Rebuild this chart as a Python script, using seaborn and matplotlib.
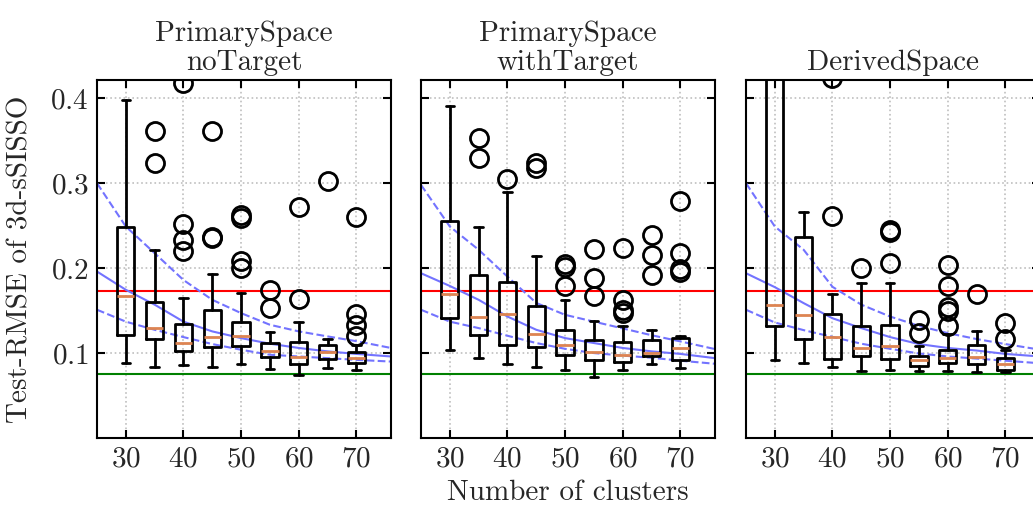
import numpy as np
import pandas as pd
import seaborn as sns
import matplotlib.pyplot as plt

# cluster counts on the x axis
positions = [30, 35, 40, 45, 50, 55, 60, 65, 70]
titles = ["PrimarySpace\nnoTarget", "PrimarySpace\nwithTarget", "DerivedSpace"]

# reference RMSE levels
red_level = 0.173
green_level = 0.0756

# box statistics, PrimarySpace noTarget
nt_whislo = [0.088, 0.084, 0.086, 0.084, 0.087, 0.0815, 0.0745, 0.083, 0.080]
nt_q1 = [0.121, 0.1165, 0.103, 0.107, 0.1086, 0.0953, 0.0874, 0.093, 0.088]
nt_med = [0.167, 0.130, 0.112, 0.119, 0.120, 0.102, 0.0953, 0.101, 0.094]
nt_q3 = [0.249, 0.160, 0.1345, 0.151, 0.1365, 0.112, 0.1125, 0.109, 0.101]
nt_whishi = [0.398, 0.221, 0.165, 0.193, 0.1706, 0.125, 0.137, 0.116, 0.109]
nt_fliers = [[], [0.362, 0.3235], [0.418, 0.252, 0.233, 0.2196], [0.362, 0.237, 0.235],
             [0.262, 0.259, 0.208, 0.200], [0.174, 0.1525], [0.2725, 0.164], [0.302],
             [0.26, 0.146, 0.133, 0.12]]

# box statistics, PrimarySpace withTarget
wt_whislo = [0.1039, 0.0937, 0.0874, 0.0839, 0.0796, 0.0718, 0.0796, 0.0874, 0.0824]
wt_q1 = [0.1415, 0.1212, 0.1098, 0.1071, 0.0976, 0.0913, 0.0889, 0.0968, 0.0921]
wt_med = [0.170, 0.1424, 0.1462, 0.1224, 0.1094, 0.1015, 0.0976, 0.0995, 0.1059]
wt_q3 = [0.2556, 0.1917, 0.1831, 0.1549, 0.1274, 0.1148, 0.1125, 0.1148, 0.1176]
wt_whishi = [0.3913, 0.2486, 0.2898, 0.2141, 0.1627, 0.1372, 0.1313, 0.1274, 0.1204]
wt_fliers = [[], [0.353, 0.3294], [0.3054], [0.3235, 0.3176], [0.2045, 0.2015, 0.1792],
             [0.2225, 0.1882, 0.1666], [0.2235, 0.162, 0.151, 0.147], [0.2392, 0.215, 0.192],
             [0.2792, 0.2184, 0.1988, 0.196]]

# box statistics, DerivedSpace
ds_whislo = [0.0921, 0.0882, 0.0831, 0.0784, 0.0804, 0.0784, 0.0788, 0.0776, 0.0776]
ds_q1 = [0.1313, 0.1168, 0.0929, 0.0968, 0.0933, 0.0843, 0.0878, 0.0871, 0.0804]
ds_med = [0.1568, 0.1447, 0.1188, 0.1054, 0.1078, 0.0921, 0.0941, 0.0953, 0.0871]
ds_q3 = [0.48, 0.2372, 0.1459, 0.1313, 0.1329, 0.0968, 0.1039, 0.109, 0.0937]
ds_whishi = [0.75, 0.2666, 0.1694, 0.1824, 0.1824, 0.1086, 0.1224, 0.1259, 0.1039]
ds_fliers = [[], [], [0.4235, 0.2619], [0.200], [0.2451, 0.2423, 0.2059], [0.1392, 0.1235],
             [0.2035, 0.1784, 0.1541, 0.149, 0.1313], [0.1694], [0.1353, 0.1165]]

# trend curve with its band
curve_x = [25, 30, 35, 40, 45, 50, 55, 60, 65, 70, 76]
nt_mid = [0.196, 0.1745, 0.157, 0.137, 0.1255, 0.1176, 0.111, 0.106, 0.102, 0.099, 0.096]
nt_upper = [0.300, 0.249, 0.2176, 0.186, 0.1627, 0.147, 0.1333, 0.1255, 0.1196, 0.114, 0.106]
nt_lower = [0.151, 0.137, 0.1274, 0.1188, 0.1106, 0.1039, 0.098, 0.096, 0.094, 0.092, 0.090]
wt_mid = [0.194, 0.179, 0.1627, 0.143, 0.1274, 0.1176, 0.1118, 0.106, 0.102, 0.099, 0.094]
wt_upper = [0.298, 0.249, 0.2216, 0.190, 0.159, 0.145, 0.137, 0.129, 0.121, 0.1137, 0.1047]
wt_lower = [0.151, 0.137, 0.1294, 0.1204, 0.1118, 0.105, 0.100, 0.097, 0.0945, 0.091, 0.0874]
ds_mid = [0.194, 0.1776, 0.1588, 0.141, 0.1294, 0.1188, 0.1106, 0.106, 0.103, 0.099, 0.096]
ds_upper = [0.300, 0.249, 0.2216, 0.178, 0.157, 0.143, 0.132, 0.1235, 0.1165, 0.1106, 0.104]
ds_lower = [0.151, 0.136, 0.127, 0.119, 0.111, 0.105, 0.0995, 0.096, 0.0935, 0.091, 0.088]

panels = [
    (nt_whislo, nt_q1, nt_med, nt_q3, nt_whishi, nt_fliers, nt_mid, nt_upper, nt_lower),
    (wt_whislo, wt_q1, wt_med, wt_q3, wt_whishi, wt_fliers, wt_mid, wt_upper, wt_lower),
    (ds_whislo, ds_q1, ds_med, ds_q3, ds_whishi, ds_fliers, ds_mid, ds_upper, ds_lower),
]

sns.set_theme(style="ticks")
plt.rcParams['font.family'] = ['cmr10', 'DejaVu Serif']
plt.rcParams['mathtext.fontset'] = 'cm'
plt.rcParams['axes.formatter.use_mathtext'] = True
plt.rcParams['text.color'] = '0.15'
plt.rcParams['axes.labelcolor'] = '0.15'

FS = 21
W, H = 1033, 509
fig = plt.figure(figsize=(W / 100, H / 100), dpi=100)
lefts = [97, 421, 746]
blue = '#7373ff'
med_color = '#dd8452'

for i, (left, data) in enumerate(zip(lefts, panels)):
    whislo, q1, med, q3, whishi, fliers, mid, upper, lower = data
    ax = fig.add_axes([left / W, (H - 438) / H, 294 / W, 358 / H])

    ax.axhline(red_level, color='red', lw=1.5, zorder=1)
    ax.axhline(green_level, color='green', lw=1.5, zorder=1)

    curves = pd.DataFrame({'x': curve_x, 'mid': mid, 'upper': upper, 'lower': lower})
    sns.lineplot(data=curves, x='x', y='mid', ax=ax, color=blue, lw=1.5, zorder=1)
    sns.lineplot(data=curves, x='x', y='upper', ax=ax, color=blue, lw=1.5, ls='--', zorder=1)
    sns.lineplot(data=curves, x='x', y='lower', ax=ax, color=blue, lw=1.5, ls='--', zorder=1)

    stats = [dict(whislo=a, q1=b, med=c, q3=d, whishi=e, fliers=f)
             for a, b, c, d, e, f in zip(whislo, q1, med, q3, whishi, fliers)]
    ax.bxp(stats, positions=positions, widths=3, manage_ticks=False,
           boxprops=dict(color='black', lw=2.0),
           whiskerprops=dict(color='black', lw=2.0),
           capprops=dict(color='black', lw=2.0),
           medianprops=dict(color=med_color, lw=2.0),
           flierprops=dict(marker='o', markerfacecolor='none', markeredgecolor='black',
                           markersize=13, markeredgewidth=2.0))

    ax.set_xlim(25, 76)
    ax.set_ylim(0.0, 0.4215)
    ax.set_xticks([30, 40, 50, 60, 70])
    ax.set_yticks([0.1, 0.2, 0.3, 0.4])
    ax.grid(True, ls=':', color='0.75', lw=1.2)
    ax.tick_params(direction='in', top=True, right=True, length=6, width=1.5,
                   labelsize=FS, colors='black', labelcolor='0.15', pad=6)
    for s in ax.spines.values():
        s.set_linewidth(1.5)
        s.set_color('black')
    ax.set_title(titles[i], fontsize=FS, pad=7, linespacing=1.15)
    ax.set_xlabel('')
    ax.set_ylabel('')
    if i == 0:
        ax.set_ylabel('Test-RMSE of 3d-sSISSO', fontsize=FS, labelpad=12)
    else:
        ax.set_yticklabels([])
    if i == 1:
        ax.set_xlabel('Number of clusters', fontsize=FS, labelpad=5)

fig.savefig('out.png', dpi=100)
